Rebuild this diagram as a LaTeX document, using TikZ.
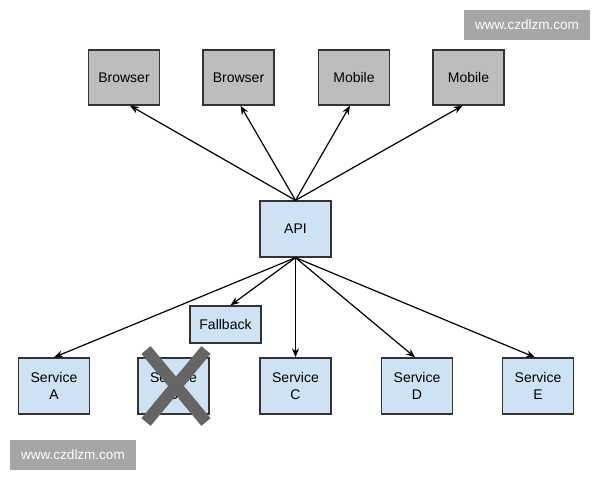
\documentclass[tikz,border=0pt]{standalone}
\usepackage{fontspec}
\setmainfont{Liberation Sans}
\usetikzlibrary{arrows.meta,calc}
\definecolor{topgray}{HTML}{BDBDBD}
\definecolor{svcblue}{HTML}{CFE2F3}
\definecolor{boxline}{HTML}{333333}
\definecolor{wmgray}{HTML}{A6A6A6}
\definecolor{xgray}{HTML}{656565}
\begin{document}
\begin{tikzpicture}[x=1pt,y=-1pt,
  client/.style={draw=boxline,line width=1.3pt,fill=topgray,minimum width=71pt,minimum height=55pt,inner sep=0pt,font=\fontsize{14}{15}\selectfont,align=center},
  svc/.style={draw=boxline,line width=1.3pt,fill=svcblue,minimum width=71pt,minimum height=56pt,inner sep=0pt,font=\fontsize{14}{16.5}\selectfont,align=center},
  conn/.style={line width=1.2pt,-{Stealth[length=9pt,width=7pt]}},
  wm/.style={fill=wmgray,text=white,minimum width=126pt,minimum height=30pt,inner sep=0pt,font=\fontsize{13.5}{15}\selectfont},
  xmark/.style={draw=xgray,line width=12pt}]
\useasboundingbox (0,0) rectangle (600,480);
\fill[white] (0,0) rectangle (600,480);
\node[client] (b1) at (124,77.5) {Browser};
\node[client] (b2) at (238.5,77.5) {Browser};
\node[client] (m1) at (354,77.5) {Mobile};
\node[client] (m2) at (468.5,77.5) {Mobile};
\node[svc] (api) at (295.5,229) {API};
\node[svc,minimum height=37pt] (fb) at (225.5,324.5) {Fallback};
\node[svc] (sa) at (54,386) {Service\\A};
\node[svc] (sb) at (173.5,386) {Service\\B};
\node[svc] (sc) at (295.5,386) {Service\\C};
\node[svc] (sd) at (417,386) {Service\\D};
\node[svc] (se) at (538,386) {Service\\E};
\draw[conn] (api.north) -- ($(b1.south)+(6,0)$);
\draw[conn] (api.north) -- ($(b2.south)+(2,0)$);
\draw[conn] (api.north) -- ($(m1.south)+(-4,0)$);
\draw[conn] (api.north) -- ($(m2.south)+(-6,0)$);
\draw[conn] (api.south) -- (sa.north);
\draw[conn] (api.south) -- ($(fb.north)+(5,0)$);
\draw[conn] (api.south) -- (sc.north);
\draw[conn] (api.south) -- ($(sd.north)+(-2,0)$);
\draw[conn] (api.south) -- ($(se.north)+(-3,0)$);
\coordinate (x1) at (146,350);
\coordinate (x2) at (206,422);
\coordinate (x3) at (206,350);
\coordinate (x4) at (146,422);
\draw[xmark] (x1) -- (x2);
\draw[xmark] (x3) -- (x4);
\node[wm] (w1) at (527,25) {www.czdlzm.com};
\node[wm] (w2) at (73,455) {www.czdlzm.com};
\end{tikzpicture}
\end{document}
